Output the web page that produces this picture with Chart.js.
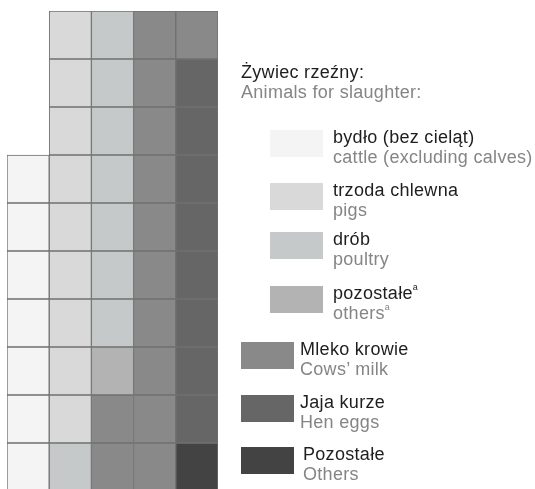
<!DOCTYPE html>
<html>
<head>
<meta charset="utf-8">
<script src="https://cdn.jsdelivr.net/npm/chart.js@4/dist/chart.umd.min.js"></script>
<style>
  html, body { margin: 0; padding: 0; background: #fff; overflow: hidden; width: 535px; height: 489px; }
  #wrap { position: relative; width: 535px; height: 491px; }
  #chart { position: absolute; left: 0; top: 0; }
  .lg { position: absolute; font-family: "Liberation Sans", Arial, sans-serif; font-size: 18px; line-height: 20px; letter-spacing: 0.3px; white-space: nowrap; }
  .pl { color: #1e1e1e; }
  .en { color: #858585; }
  .sw { position: absolute; width: 53px; height: 27px; }
  sup { font-size: 9px; line-height: 0; vertical-align: 0; position: relative; top: -9px; }
</style>
</head>
<body>
<div id="wrap">
  <canvas id="chart" width="535" height="491"></canvas>
  <div id="legend"></div>
</div>
<script>
/* ---------- data: cells per column (5 columns x 10 rows) ---------- */
const columns  = ['1', '2', '3', '4', '5'];
const cattle   = [7, 0, 0, 0, 0];
const pigs     = [0, 9, 0, 0, 0];
const poultry  = [0, 1, 7, 0, 0];
const othersA  = [0, 0, 1, 0, 0];
const milk     = [0, 0, 2, 10, 1];
const eggs     = [0, 0, 0, 0, 8];
const others   = [0, 0, 0, 0, 1];
const rowCount = 10;

// bottom-up stacking order inside each column
const series = [
  { name: 'others',  counts: others,  color: '#434343', pl: 'Pozostałe',          en: 'Others' },
  { name: 'eggs',    counts: eggs,    color: '#666666', pl: 'Jaja kurze',         en: 'Hen eggs' },
  { name: 'milk',    counts: milk,    color: '#898989', pl: 'Mleko krowie',       en: 'Cows’ milk' },
  { name: 'othersA', counts: othersA, color: '#b3b3b3', pl: 'pozostałe<sup>a</sup>', en: 'others<sup>a</sup>' },
  { name: 'poultry', counts: poultry, color: '#c6c9ca', pl: 'drób',               en: 'poultry' },
  { name: 'pigs',    counts: pigs,    color: '#d9d9d9', pl: 'trzoda chlewna',     en: 'pigs' },
  { name: 'cattle',  counts: cattle,  color: '#f4f4f4', pl: 'bydło (bez cieląt)', en: 'cattle (excluding calves)' },
];

/* ---------- build one dataset per row of cells ---------- */
const cellColors = columns.map((c, ci) => {
  const list = [];
  series.forEach(s => { for (let k = 0; k < s.counts[ci]; k++) list.push(s.color); });
  return list;
});

const datasets = [];
for (let r = 0; r < rowCount; r++) {
  datasets.push({
    data: cellColors.map(list => (r < list.length ? 1 : null)),
    backgroundColor: cellColors.map(list => list[r] || 'rgba(0,0,0,0)'),
    borderColor: '#717171',
    borderWidth: 1,
    borderSkipped: false,
    barPercentage: 1,
    categoryPercentage: 1,
  });
}

new Chart(document.getElementById('chart'), {
  type: 'bar',
  data: { labels: columns, datasets },
  options: {
    responsive: false,
    animation: false,
    layout: { padding: { left: 7, right: 317, top: 11, bottom: 0 } },
    plugins: { legend: { display: false }, tooltip: { enabled: false } },
    scales: {
      x: { stacked: true, display: false },
      y: { stacked: true, display: false, min: 0, max: rowCount },
    },
  },
});

/* ---------- legend (HTML text) ---------- */
const legend = document.getElementById('legend');
function addText(x, baseline, pl, en) {
  const d = document.createElement('div');
  d.className = 'lg';
  d.style.left = x + 'px';
  d.style.top = (baseline - 16) + 'px';
  d.innerHTML = `<div class="pl">${pl}</div><div class="en">${en}</div>`;
  legend.appendChild(d);
}
function addSwatch(x, y, color) {
  const s = document.createElement('div');
  s.className = 'sw';
  s.style.left = x + 'px';
  s.style.top = y + 'px';
  s.style.background = color;
  legend.appendChild(s);
}

addText(241, 78, 'Żywiec rzeźny:', 'Animals for slaughter:');

const legendPos = {
  cattle:  { sx: 270, sy: 130, tx: 333 },
  pigs:    { sx: 270, sy: 183, tx: 333 },
  poultry: { sx: 270, sy: 232, tx: 333 },
  othersA: { sx: 270, sy: 286, tx: 333 },
  milk:    { sx: 241, sy: 342, tx: 300 },
  eggs:    { sx: 241, sy: 395, tx: 300 },
  others:  { sx: 241, sy: 447, tx: 303 },
};
series.forEach(s => {
  const p = legendPos[s.name];
  addSwatch(p.sx, p.sy, s.color);
  addText(p.tx, p.sy + 13, s.pl, s.en);
});
</script>
</body>
</html>
